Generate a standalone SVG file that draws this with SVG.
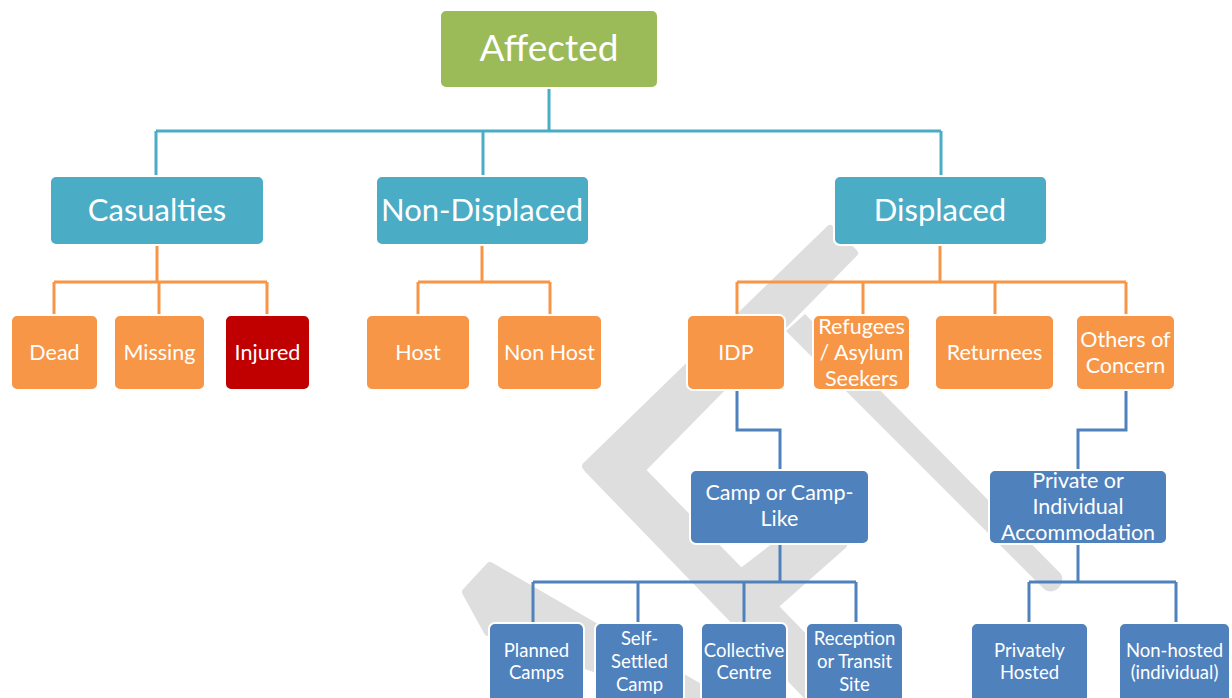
<svg xmlns="http://www.w3.org/2000/svg" width="1232" height="698" viewBox="0 0 1232 698">
<style>
.wm{fill:#dedede;stroke:#dedede;stroke-width:8;stroke-linejoin:round}
.box{stroke:#ffffff;stroke-width:2}
.g{fill:#9bbb59}.t{fill:#4bacc6}.o{fill:#f79646}.r{fill:#c00000}.b{fill:#4f81bd}
text{font-family:Lato,"Open Sans","Liberation Sans",sans-serif;fill:#ffffff;text-anchor:middle}
.f1{font-size:37px}.f2{font-size:31px}.f3{font-size:21.5px}.f4{font-size:18.5px}
.ct{fill:none;stroke:#4bacc6;stroke-width:3}
.co{fill:none;stroke:#f79646;stroke-width:3}
.cb{fill:none;stroke:#4f81bd;stroke-width:3}
</style>
<rect width="1232" height="698" fill="#ffffff"/>
<g id="watermark">
<polygon class="wm" points="830,229 854,253 641,470 868,703 866,745 855,745 589,470 586,466"/>
<path d="M805,314 L1061,574 A12 12 0 0 1 1045,590 L786,331 Z" fill="#dedede"/>
<polygon class="wm" points="742,572 822,510 843,545 775,605"/>
<polygon class="wm" points="490,566 733,707 716,742 600,670 488,632 466,592"/>
</g>
<g id="connectors">
<path class="ct" d="M549,88 V131 M156,131 H941 M156,131 V176 M483,131 V176 M941,131 V176"/>
<path class="co" d="M157,245 V282 M54,282 H267 M54,282 V315 M159,282 V315 M267,282 V315"/>
<path class="co" d="M482,245 V282 M418,282 H550 M418,282 V315 M550,282 V315"/>
<path class="co" d="M940,245 V282 M737,282 H1126 M737,282 V315 M863,282 V315 M995,282 V315 M1126,282 V315"/>
<path class="cb" d="M737,390 V430 H780 V470"/>
<path class="cb" d="M780,544 V582 M533,582 H856 M533,582 V623 M638,582 V623 M744,582 V623 M856,582 V623"/>
<path class="cb" d="M1126,390 V430 H1078 V470"/>
<path class="cb" d="M1078,544 V582 M1029,582 H1176 M1029,582 V623 M1176,582 V623"/>
</g>
<g id="n-affected"><rect class="box g" x="440" y="10" width="218" height="78" rx="6"/><text class="f1" x="549" y="61">Affected</text></g>
<g id="n-casualties"><rect class="box t" x="50" y="176" width="214" height="69" rx="6"/><text class="f2" x="157" y="221">Casualties</text></g>
<g id="n-nondisplaced"><rect class="box t" x="376" y="176" width="213" height="69" rx="6"/><text class="f2" x="482" y="221">Non-Displaced</text></g>
<g id="n-displaced"><rect class="box t" x="834" y="176" width="213" height="69" rx="6"/><text class="f2" x="940" y="221">Displaced</text></g>
<g id="n-dead"><rect class="box o" x="11" y="315" width="87" height="75" rx="6"/><text class="f3" x="54.5" y="360">Dead</text></g>
<g id="n-missing"><rect class="box o" x="114" y="315" width="91" height="75" rx="6"/><text class="f3" x="159.5" y="360">Missing</text></g>
<g id="n-injured"><rect class="box r" x="225" y="315" width="85" height="75" rx="6"/><text class="f3" x="267.5" y="360">Injured</text></g>
<g id="n-host"><rect class="box o" x="366" y="315" width="104" height="75" rx="6"/><text class="f3" x="418" y="360">Host</text></g>
<g id="n-nonhost"><rect class="box o" x="497" y="315" width="105" height="75" rx="6"/><text class="f3" x="549.5" y="360">Non Host</text></g>
<g id="n-idp"><rect class="box o" x="687" y="315" width="98" height="75" rx="6"/><text class="f3" x="736" y="360">IDP</text></g>
<g id="n-refugees"><rect class="box o" x="813" y="315" width="97" height="75" rx="6"/><text class="f3" x="861.5"><tspan x="861.5" y="334">Refugees</tspan><tspan x="861.5" y="360">/ Asylum</tspan><tspan x="861.5" y="386">Seekers</tspan></text></g>
<g id="n-returnees"><rect class="box o" x="935" y="315" width="119" height="75" rx="6"/><text class="f3" x="994.5" y="360">Returnees</text></g>
<g id="n-others"><rect class="box o" x="1076" y="315" width="99" height="75" rx="6"/><text class="f3" x="1125.5"><tspan x="1125.5" y="347">Others of</tspan><tspan x="1125.5" y="373">Concern</tspan></text></g>
<g id="n-camp"><rect class="box b" x="690" y="470" width="179" height="74" rx="6"/><text class="f3" x="779.5"><tspan x="779.5" y="500">Camp or Camp-</tspan><tspan x="779.5" y="526">Like</tspan></text></g>
<g id="n-private"><rect class="box b" x="989" y="470" width="178" height="74" rx="6"/><text class="f3" x="1078"><tspan x="1078" y="488">Private or</tspan><tspan x="1078" y="514">Individual</tspan><tspan x="1078" y="540">Accommodation</tspan></text></g>
<g id="n-planned"><rect class="box b" x="489" y="623" width="95" height="85" rx="6"/><text class="f4" x="536.5"><tspan x="536.5" y="657">Planned</tspan><tspan x="536.5" y="679">Camps</tspan></text></g>
<g id="n-selfsettled"><rect class="box b" x="595" y="623" width="89" height="85" rx="6"/><text class="f4" x="639.5"><tspan x="639.5" y="645">Self-</tspan><tspan x="639.5" y="668">Settled</tspan><tspan x="639.5" y="691">Camp</tspan></text></g>
<g id="n-collective"><rect class="box b" x="701" y="623" width="86" height="85" rx="6"/><text class="f4" x="744"><tspan x="744" y="657">Collective</tspan><tspan x="744" y="679">Centre</tspan></text></g>
<g id="n-reception"><rect class="box b" x="806" y="623" width="97" height="85" rx="6"/><text class="f4" x="854.5"><tspan x="854.5" y="645">Reception</tspan><tspan x="854.5" y="668">or Transit</tspan><tspan x="854.5" y="691">Site</tspan></text></g>
<g id="n-privatelyhosted"><rect class="box b" x="971" y="623" width="117" height="85" rx="6"/><text class="f4" x="1029.5"><tspan x="1029.5" y="657">Privately</tspan><tspan x="1029.5" y="679">Hosted</tspan></text></g>
<g id="n-nonhosted"><rect class="box b" x="1119" y="623" width="111" height="85" rx="6"/><text class="f4" x="1174.5"><tspan x="1174.5" y="657">Non-hosted</tspan><tspan x="1174.5" y="679">(individual)</tspan></text></g>
</svg>
